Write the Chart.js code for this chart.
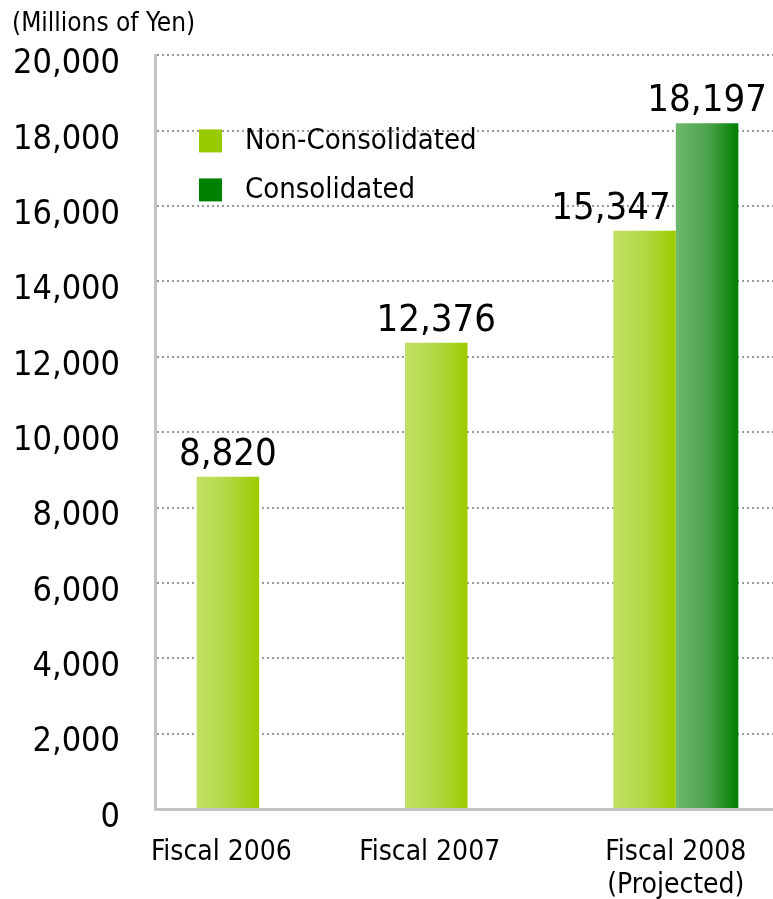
<!DOCTYPE html>
<html lang="en">
<head>
  <meta charset="UTF-8">
  <title>Ordinary Income</title>
  <script src="https://cdn.jsdelivr.net/npm/chart.js"></script>
  <style>
    html, body { margin: 0; padding: 0; background: #fff; overflow: hidden; }
    /* plot runs a little past the right edge in the original */
    #wrap { width: 780px; height: 899px; }
  </style>
</head>
<body>
  <div id="wrap"><canvas id="chart"></canvas></div>

  <script>
    // data
    const categories = ['Fiscal 2006', 'Fiscal 2007', ['Fiscal 2008', '(Projected)']];
    const nonConsolidated = [8820, 12376, 15347];
    const consolidated = [null, null, 18197];
    const yMin = 0;
    const yMax = 20000;
    const yStep = 2000;

    const FONT = "'DejaVu Sans Condensed', 'Liberation Sans', sans-serif";

    // horizontal gradient across each bar
    function barGradient(stops, solid) {
      return function (c) {
        const el = c.element;
        if (!el || el.x == null || !el.width) return solid;
        const g = c.chart.ctx.createLinearGradient(el.x - el.width / 2, 0, el.x + el.width / 2, 0);
        stops.forEach((s, i) => g.addColorStop(i / (stops.length - 1), s));
        return g;
      };
    }

    // numbers above the bars
    const valueLabels = {
      id: 'valueLabels',
      afterDatasetsDraw(chart) {
        const ctx = chart.ctx;
        ctx.save();
        ctx.font = '38px ' + FONT;
        ctx.fillStyle = '#000';
        ctx.textBaseline = 'alphabetic';
        chart.data.datasets.forEach((ds, di) => {
          chart.getDatasetMeta(di).data.forEach((bar, i) => {
            const v = ds.data[i];
            if (v == null) return;
            const other = chart.data.datasets[1 - di].data[i];
            let x = bar.x;
            ctx.textAlign = 'center';
            if (di === 0 && other != null && other > v) {
              ctx.textAlign = 'right';
              x = bar.x + bar.width / 2 - 5;
            }
            ctx.fillText(v.toLocaleString('en-US'), x, bar.y - 12);
          });
        });
        ctx.restore();
      }
    };

    // legend sitting inside the plot area
    const innerLegend = {
      id: 'innerLegend',
      afterDraw(chart) {
        const ctx = chart.ctx;
        const a = chart.chartArea;
        ctx.save();
        ctx.font = '29px ' + FONT;
        ctx.textBaseline = 'middle';
        ctx.textAlign = 'left';
        chart.data.datasets.forEach((ds, i) => {
          const y = a.top + 74 + i * 49;
          ctx.fillStyle = ds.legendColor;
          ctx.fillRect(a.left + 44, y, 23, 23);
          ctx.fillStyle = '#000';
          ctx.fillText(ds.label, a.left + 90, y + 12);
        });
        ctx.restore();
      }
    };

    const config = {
      type: 'bar',
      data: {
        labels: categories,
        datasets: [{
          label: 'Non-Consolidated',
          data: nonConsolidated,
          legendColor: '#99cc00',
          backgroundColor: barGradient(['#c2e064', '#b2d843', '#99cc00'], '#99cc00')
        }, {
          label: 'Consolidated',
          data: consolidated,
          legendColor: '#008000',
          backgroundColor: barGradient(['#6db86d', '#4ea34e', '#008000'], '#008000')
        }]
      },
      plugins: [valueLabels, innerLegend],
      options: {
        responsive: true,
        maintainAspectRatio: false,
        animation: false,
        layout: { padding: { left: 12, right: 0, top: 0, bottom: 0 } },
        datasets: {
          bar: { categoryPercentage: 0.6, barPercentage: 1.0, borderWidth: 0 }
        },
        plugins: {
          legend: { display: false },
          tooltip: { enabled: false },
          title: {
            display: true,
            text: '(Millions of Yen)',
            align: 'start',
            color: '#000',
            font: { family: FONT, size: 26, weight: 'normal', lineHeight: 1.2 },
            padding: { top: 5, bottom: 16 }
          }
        },
        scales: {
          x: {
            grid: { display: false },
            border: { display: true, color: '#c4c4c4', width: 3 },
            ticks: {
              color: '#000',
              padding: 20,
              maxRotation: 0,
              autoSkip: false,
              font: { family: FONT, size: 28, lineHeight: 1.15 },
              // lone bars sit left of the category centre, so pull their labels left too
              callback: function (v, i) {
                const lab = this.getLabelForValue(v);
                return consolidated[i] == null ? lab + '\u2003\u2003\u2003' : lab;
              }
            },
            afterFit: s => { s.height = 90; }
          },
          y: {
            min: yMin,
            max: yMax,
            grid: { color: '#9a9a9a', lineWidth: 2, drawTicks: false },
            border: { display: true, color: '#c4c4c4', width: 3, dash: [2, 3] },
            ticks: {
              stepSize: yStep,
              color: '#000',
              padding: 35,
              labelOffset: 9,
              font: { family: FONT, size: 34 },
              callback: v => v.toLocaleString('en-US')
            },
            afterFit: s => { s.width = 143; }
          }
        }
      }
    };

    const chart = new Chart(document.getElementById('chart').getContext('2d'), config);
    chart.update();
  </script>
</body>
</html>
